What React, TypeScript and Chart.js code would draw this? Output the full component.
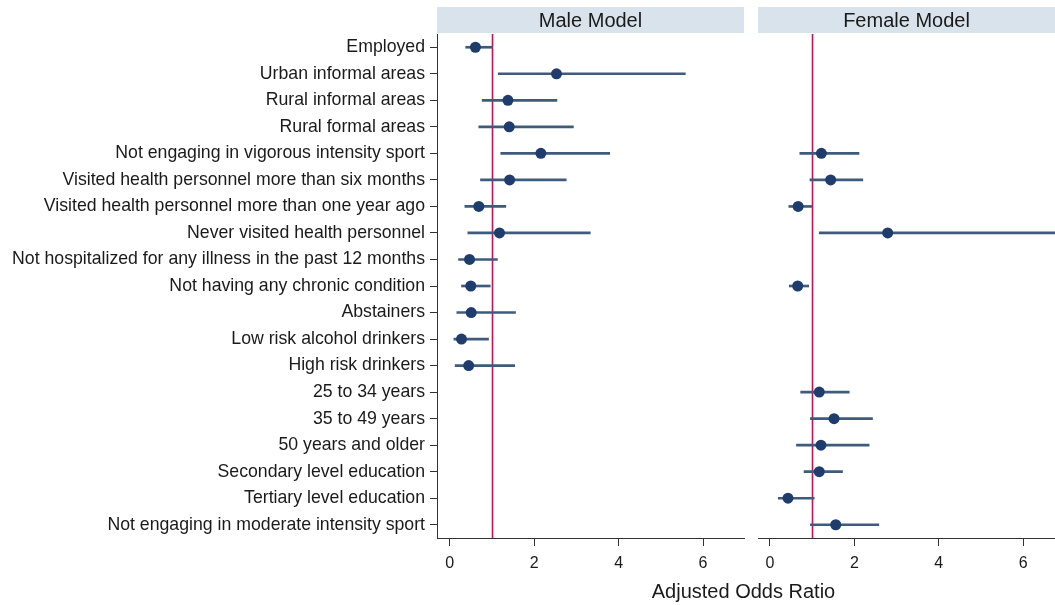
import React, { useEffect, useRef } from "react";
import { Chart, registerables } from "chart.js";

Chart.register(...registerables);

const categories = [
  "Employed",
  "Urban informal areas",
  "Rural informal areas",
  "Rural formal areas",
  "Not engaging in vigorous intensity sport",
  "Visited health personnel more than six months",
  "Visited health personnel more than one year ago",
  "Never visited health personnel",
  "Not hospitalized for any illness in the past 12 months",
  "Not having any chronic condition",
  "Abstainers",
  "Low risk alcohol drinkers",
  "High risk drinkers",
  "25 to 34 years",
  "35 to 49 years",
  "50 years and older",
  "Secondary level education",
  "Tertiary level education",
  "Not engaging in moderate intensity sport",
];

const maleOR = [0.61, 2.53, 1.38, 1.41, 2.16, 1.42, 0.69, 1.18, 0.47, 0.5, 0.51, 0.28, 0.45, null, null, null, null, null, null];
const maleLower = [0.38, 1.15, 0.77, 0.69, 1.21, 0.73, 0.36, 0.43, 0.21, 0.28, 0.17, 0.1, 0.13, null, null, null, null, null, null];
const maleUpper = [1.01, 5.58, 2.54, 2.93, 3.79, 2.76, 1.33, 3.33, 1.13, 0.96, 1.56, 0.92, 1.54, null, null, null, null, null, null];

const femaleOR = [null, null, null, null, 1.22, 1.44, 0.67, 2.79, null, 0.66, null, null, null, 1.17, 1.52, 1.21, 1.17, 0.43, 1.56];
const femaleLower = [null, null, null, null, 0.71, 0.95, 0.45, 1.17, null, 0.46, null, null, null, 0.73, 0.96, 0.63, 0.81, 0.2, 0.96];
const femaleUpper = [null, null, null, null, 2.11, 2.2, 0.99, 6.9, null, 0.92, null, null, null, 1.88, 2.43, 2.35, 1.72, 1.05, 2.58];

const xTicks = [0, 2, 4, 6];
const refValue = 1;
const panelTitles = ["Male Model", "Female Model"];
const axisTitle = "Adjusted Odds Ratio";

const FONT = "'Liberation Sans', Arial, sans-serif";
const DOT = "#1f3d6c";
const LINE = "#3e5b7b";
const RED = "#c8124f";
const HEADER_BG = "#d8e3ec";
const AXIS = "#333333";
const TEXT = "#1a1a1a";

const panelPlugin = {
  id: "panelDecor",
  beforeDraw(chart: any, _args: any, opts: any) {
    const { ctx, chartArea } = chart;
    ctx.save();
    ctx.fillStyle = HEADER_BG;
    ctx.fillRect(chartArea.left, 7, chartArea.right - chartArea.left, 26);
    ctx.fillStyle = TEXT;
    ctx.font = `20px ${FONT}`;
    ctx.textAlign = "center";
    ctx.textBaseline = "middle";
    ctx.fillText(opts.title, (chartArea.left + chartArea.right) / 2, 21);
    ctx.restore();
  },
  beforeDatasetsDraw(chart: any) {
    const { ctx, chartArea, scales } = chart;
    const x = Math.round(scales.x.getPixelForValue(refValue)) + 0.5;
    ctx.save();
    ctx.strokeStyle = RED;
    ctx.lineWidth = 1.6;
    ctx.beginPath();
    ctx.moveTo(x, chartArea.top);
    ctx.lineTo(x, chartArea.bottom);
    ctx.stroke();
    ctx.restore();
  },
};

function makeConfig(
  title: string,
  or: (number | null)[],
  lower: (number | null)[],
  upper: (number | null)[],
  xMin: number,
  xMax: number,
  showY: boolean,
  padLeft: number,
  padRight: number
): any {
  const ranges = lower.map((l, i) => (l == null || upper[i] == null ? null : [l, upper[i]]));
  return {
    type: "bar",
    data: {
      labels: categories,
      datasets: [
        {
          type: "bar",
          indexAxis: "y",
          data: ranges,
          backgroundColor: LINE,
          borderWidth: 0,
          barThickness: 2,
          borderSkipped: false,
          order: 2,
        },
        {
          type: "line",
          indexAxis: "y",
          data: or,
          showLine: false,
          pointRadius: 5.5,
          pointBackgroundColor: DOT,
          pointBorderColor: DOT,
          pointBorderWidth: 0,
          order: 1,
        },
      ],
    },
    options: {
      indexAxis: "y",
      responsive: false,
      animation: false,
      layout: { autoPadding: false, padding: { top: 34, left: padLeft, right: padRight, bottom: 0 } },
      plugins: {
        legend: { display: false },
        tooltip: { enabled: false },
        title: { display: false },
        panelDecor: { title },
      },
      scales: {
        y: {
          type: "category",
          display: showY,
          offset: true,
          afterFit: (s: any) => {
            s.width = showY ? 437 : 0;
            s.paddingTop = 0;
            s.paddingBottom = 0;
          },
          grid: { drawOnChartArea: false, drawTicks: true, tickLength: 7, color: AXIS, offset: false },
          border: { display: true, color: AXIS, width: 1 },
          ticks: { font: { family: FONT, size: 17.7 }, color: TEXT, padding: 5, autoSkip: false },
        },
        x: {
          type: "linear",
          min: xMin,
          max: xMax,
          afterBuildTicks: (s: any) => {
            s.ticks = xTicks.map((v) => ({ value: v }));
          },
          afterFit: (s: any) => {
            s.height = 67;
            s.paddingLeft = 0;
            s.paddingRight = 0;
          },
          grid: { drawOnChartArea: false, drawTicks: true, tickLength: 8, color: AXIS },
          border: { display: true, color: AXIS, width: 1 },
          ticks: { font: { family: FONT, size: 16 }, color: TEXT, padding: 8, maxRotation: 0 },
        },
      },
    },
    plugins: [panelPlugin],
  };
}

function Panel(props: { config: any; left: number; width: number }) {
  const ref = useRef<HTMLCanvasElement | null>(null);
  useEffect(() => {
    if (!ref.current) return;
    const chart = new Chart(ref.current, props.config);
    return () => chart.destroy();
  }, []);
  return (
    <canvas
      ref={ref}
      width={props.width}
      height={605}
      style={{ position: "absolute", left: props.left, top: 0, width: props.width, height: 605 }}
    />
  );
}

export default function App() {
  const maleCfg = makeConfig(panelTitles[0], maleOR, maleLower, maleUpper, -0.3, 6.97, true, 0, 2);
  const femaleCfg = makeConfig(panelTitles[1], femaleOR, femaleLower, femaleUpper, -0.28, 6.75, false, 12, 0);
  return (
    <div style={{ position: "absolute", left: 0, top: 0, width: 1055, height: 605, background: "#fff", overflow: "hidden" }}>
      <Panel config={maleCfg} left={0} width={746} />
      <Panel config={femaleCfg} left={746} width={309} />
      <div
        style={{
          position: "absolute",
          left: 600,
          width: 287,
          top: 581,
          textAlign: "center",
          fontFamily: FONT,
          fontSize: 20,
          lineHeight: "20px",
          color: TEXT,
          whiteSpace: "nowrap",
        }}
      >
        {axisTitle}
      </div>
    </div>
  );
}
